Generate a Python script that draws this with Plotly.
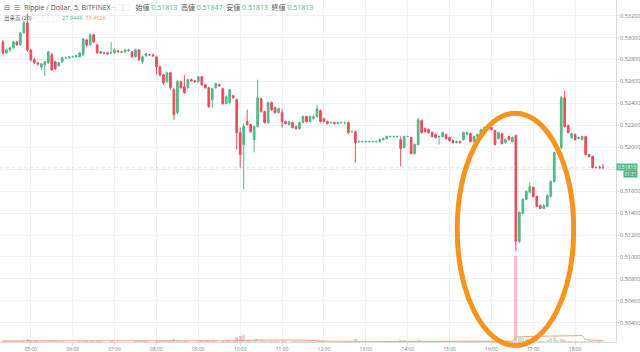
import pandas as pd
import plotly.graph_objects as go

# ---------------- data (5-minute XRP/USD candles, BITFINEX) ----------------
start_time = "2018-01-01 04:20"
n_bars = 173

opens = [
0.52961,0.52861,0.52888,0.52907,0.52961,0.52934,0.53043,0.53134,0.52888,0.52798,
0.52770,0.52734,0.52752,0.52770,0.52843,0.52779,0.52743,0.52779,0.52816,0.52816,
0.52825,0.52825,0.52825,0.52843,0.52979,0.52934,0.53025,0.52934,0.52870,0.52861,
0.52861,0.52861,0.52861,0.52879,0.52870,0.52870,0.52879,0.52870,0.52825,0.52888,
0.52779,0.52834,0.52843,0.52843,0.52825,0.52734,0.52661,0.52598,0.52679,0.52525,
0.52316,0.52598,0.52552,0.52543,0.52616,0.52607,0.52598,0.52643,0.52570,0.52543,
0.52434,0.52543,0.52570,0.52534,0.52398,0.52407,0.52470,0.52434,0.52134,0.52025,
0.52234,0.52207,0.52070,0.52189,0.52443,0.52325,0.52225,0.52407,0.52361,0.52316,
0.52316,0.52234,0.52207,0.52225,0.52189,0.52170,0.52225,0.52280,0.52234,0.52261,
0.52280,0.52334,0.52261,0.52234,0.52225,0.52225,0.52216,0.52225,0.52225,0.52225,
0.52143,0.52143,0.52052,0.52052,0.52052,0.52052,0.52052,0.52052,0.52052,0.52070,
0.52080,0.52098,0.52098,0.52098,0.52070,0.51998,0.52098,0.52089,0.51943,0.52025,
0.52243,0.52170,0.52161,0.52134,0.52116,0.52098,0.52098,0.52116,0.52089,0.52061,
0.52043,0.52052,0.52070,0.52116,0.52125,0.52052,0.52098,0.52116,0.52152,0.52170,
0.52180,0.52152,0.52080,0.52125,0.52043,0.52098,0.52052,0.52107,0.51143,0.51398,
0.51525,0.51589,0.51634,0.51552,0.51470,0.51443,0.51461,0.51552,0.51689,0.51952,
0.51998,0.52452,0.52198,0.52089,0.52116,0.52080,0.52070,0.52098,0.51934,0.51916,
0.51816,0.51816,0.51813]

highs = [
0.52979,0.52898,0.52916,0.52970,0.52970,0.53052,0.53152,0.53215,0.52898,0.52816,
0.52779,0.52770,0.52788,0.52879,0.52861,0.52788,0.52779,0.52825,0.52825,0.52834,
0.52834,0.52843,0.52870,0.52998,0.52988,0.53043,0.53034,0.52943,0.52879,0.52870,
0.52870,0.52961,0.52898,0.52888,0.52879,0.52898,0.52898,0.52879,0.52898,0.52898,
0.52834,0.52861,0.52852,0.52852,0.52834,0.52743,0.52670,0.52688,0.52688,0.52543,
0.52616,0.52607,0.52661,0.52625,0.52625,0.52616,0.52652,0.52652,0.52579,0.52552,
0.52543,0.52588,0.52579,0.52543,0.52470,0.52534,0.52479,0.52443,0.52180,0.52216,
0.52343,0.52216,0.52198,0.52616,0.52452,0.52334,0.52416,0.52416,0.52370,0.52361,
0.52352,0.52243,0.52243,0.52234,0.52198,0.52234,0.52289,0.52289,0.52289,0.52289,
0.52388,0.52343,0.52270,0.52243,0.52234,0.52234,0.52234,0.52234,0.52234,0.52234,
0.52152,0.52152,0.52061,0.52061,0.52061,0.52061,0.52061,0.52061,0.52080,0.52089,
0.52107,0.52107,0.52107,0.52107,0.52098,0.52107,0.52107,0.52098,0.52034,0.52270,
0.52252,0.52180,0.52170,0.52143,0.52125,0.52107,0.52143,0.52125,0.52098,0.52070,
0.52061,0.52061,0.52143,0.52143,0.52134,0.52107,0.52125,0.52170,0.52189,0.52189,
0.52189,0.52161,0.52143,0.52134,0.52080,0.52107,0.52098,0.52116,0.51416,0.51534,
0.51607,0.51680,0.51643,0.51561,0.51480,0.51480,0.51570,0.51698,0.51961,0.52016,
0.52470,0.52516,0.52207,0.52134,0.52125,0.52098,0.52107,0.52107,0.51943,0.51925,
0.51825,0.51834,0.51847]

lows = [
0.52843,0.52852,0.52870,0.52898,0.52925,0.52925,0.53034,0.52870,0.52779,0.52761,
0.52743,0.52707,0.52652,0.52761,0.52698,0.52707,0.52734,0.52770,0.52807,0.52807,
0.52816,0.52816,0.52816,0.52834,0.52916,0.52925,0.52952,0.52852,0.52852,0.52852,
0.52843,0.52852,0.52852,0.52861,0.52861,0.52861,0.52870,0.52816,0.52816,0.52788,
0.52761,0.52825,0.52834,0.52825,0.52661,0.52643,0.52570,0.52588,0.52525,0.52252,
0.52298,0.52534,0.52488,0.52534,0.52598,0.52588,0.52588,0.52561,0.52534,0.52361,
0.52361,0.52534,0.52552,0.52388,0.52388,0.52398,0.52443,0.51980,0.51816,0.51616,
0.52198,0.52134,0.51952,0.52180,0.52316,0.52216,0.52216,0.52334,0.52307,0.52307,
0.52180,0.52207,0.52198,0.52170,0.52161,0.52161,0.52216,0.52225,0.52225,0.52252,
0.52270,0.52225,0.52225,0.52207,0.52216,0.52207,0.52207,0.52216,0.52207,0.52116,
0.52134,0.51861,0.52043,0.52043,0.52043,0.52043,0.52043,0.52043,0.52043,0.52061,
0.52070,0.52089,0.52089,0.52089,0.51825,0.51989,0.52089,0.51934,0.51934,0.52016,
0.52125,0.52134,0.52125,0.52089,0.52080,0.52025,0.52089,0.52070,0.52052,0.52034,
0.52034,0.52034,0.52061,0.52107,0.52043,0.52043,0.52089,0.52107,0.52143,0.52161,
0.52152,0.52016,0.52070,0.52025,0.52034,0.52061,0.52043,0.51052,0.51125,0.51389,
0.51516,0.51580,0.51543,0.51452,0.51434,0.51434,0.51452,0.51543,0.51680,0.51943,
0.51980,0.52180,0.52125,0.52080,0.52061,0.52070,0.52061,0.51925,0.51907,0.51807,
0.51807,0.51807,0.51813]

closes = [
0.52861,0.52888,0.52907,0.52961,0.52934,0.53043,0.53134,0.52888,0.52798,0.52770,
0.52761,0.52761,0.52779,0.52870,0.52707,0.52716,0.52770,0.52816,0.52816,0.52825,
0.52825,0.52834,0.52861,0.52988,0.52934,0.53025,0.52961,0.52861,0.52861,0.52861,
0.52852,0.52861,0.52888,0.52870,0.52870,0.52888,0.52888,0.52825,0.52888,0.52798,
0.52825,0.52852,0.52843,0.52834,0.52734,0.52661,0.52588,0.52679,0.52543,0.52298,
0.52598,0.52543,0.52498,0.52616,0.52607,0.52598,0.52643,0.52570,0.52543,0.52370,
0.52534,0.52579,0.52561,0.52398,0.52461,0.52525,0.52452,0.52134,0.51934,0.52189,
0.52207,0.52143,0.52189,0.52452,0.52325,0.52225,0.52407,0.52343,0.52316,0.52352,
0.52234,0.52216,0.52234,0.52180,0.52170,0.52225,0.52280,0.52234,0.52280,0.52280,
0.52352,0.52234,0.52234,0.52216,0.52225,0.52216,0.52225,0.52225,0.52225,0.52134,
0.52143,0.52043,0.52052,0.52052,0.52052,0.52052,0.52052,0.52052,0.52070,0.52080,
0.52098,0.52098,0.52098,0.52098,0.51989,0.52098,0.52098,0.51943,0.52025,0.52252,
0.52134,0.52143,0.52134,0.52098,0.52089,0.52098,0.52134,0.52080,0.52061,0.52043,
0.52052,0.52043,0.52134,0.52134,0.52052,0.52098,0.52116,0.52161,0.52180,0.52180,
0.52161,0.52025,0.52134,0.52034,0.52070,0.52070,0.52089,0.51143,0.51407,0.51525,
0.51598,0.51643,0.51552,0.51461,0.51443,0.51470,0.51561,0.51689,0.51952,0.51998,
0.52452,0.52189,0.52134,0.52125,0.52070,0.52089,0.52098,0.51934,0.51916,0.51816,
0.51816,0.51813,0.51813]

volumes_k = [
60,45,40,55,35,70,90,130,80,50,
40,45,60,70,65,45,30,35,25,20,
20,25,30,45,90,60,70,55,40,25,
20,30,25,20,15,20,25,20,35,30,
40,30,20,25,50,55,60,45,80,130,
110,45,60,40,25,20,35,30,30,90,
80,35,25,60,40,50,30,260,300,360,
90,70,140,160,80,60,70,40,35,30,
55,30,25,35,30,40,35,40,30,25,
45,50,30,25,15,15,20,15,20,60,
30,140,20,15,15,15,20,15,25,30,
30,15,15,20,90,120,20,70,60,110,
70,40,35,40,35,45,40,35,45,40,
25,25,50,35,45,40,35,50,45,30,
35,70,50,60,40,35,45,4300,260,200,
150,120,90,80,60,50,90,200,230,100,
140,120,60,45,40,30,35,70,45,60,
30,30,27.944]

hour_ticks = ["05:00","06:00","07:00","08:00","09:00","10:00","11:00",
              "12:00","13:00","14:00","15:00","16:00","17:00","18:00"]
price_ticks = [0.504,0.506,0.508,0.510,0.512,0.514,0.516,0.518,
               0.520,0.522,0.524,0.526,0.528,0.530,0.532]

last_price = 0.51813
countdown = "01:31"

# ---------------- styling ----------------
UP = "#53B987"
DOWN = "#EB4D5C"
GRID = "#EEF1F5"
AXIS = "#D9DCE0"
TXT = "#7A7A7A"
MA_COL = "#F4A27E"
FONT = "Open Sans, Noto Sans CJK JP, DejaVu Sans, sans-serif"

times = pd.date_range(start_time, periods=n_bars, freq="5min")
day = times[0].strftime("%Y-%m-%d")
vol = pd.Series(volumes_k) * 1000.0
vol_ma = vol.rolling(20, min_periods=1).mean()
vol_colors = ["rgba(83,185,135,0.35)" if c >= o else "rgba(235,77,92,0.35)"
              for o, c in zip(opens, closes)]

# the 0.51800 label sits under the last-price tag, as in the reference
price_text = ["" if abs(v - 0.518) < 1e-9 else "%.5f" % v for v in price_ticks]

fig = go.Figure()
fig.add_trace(go.Bar(x=times, y=vol, yaxis="y2", marker_color=vol_colors,
                     marker_line_width=0, width=5 * 60 * 1000 * 0.9,
                     showlegend=False, hoverinfo="skip"))
fig.add_trace(go.Scatter(x=times, y=vol_ma, yaxis="y2", mode="lines",
                         line=dict(color=MA_COL, width=1), showlegend=False,
                         hoverinfo="skip"))
fig.add_trace(go.Candlestick(
    x=times, open=opens, high=highs, low=lows, close=closes,
    increasing=dict(line=dict(color=UP, width=1), fillcolor=UP),
    decreasing=dict(line=dict(color=DOWN, width=1), fillcolor=DOWN),
    whiskerwidth=0, showlegend=False))

fig.update_layout(
    width=640, height=352,
    margin=dict(l=0, r=21, t=0, b=9),
    paper_bgcolor="white", plot_bgcolor="white",
    font=dict(family=FONT, color=TXT),
    bargap=0,
    xaxis=dict(type="date", range=[day + " 04:15:48", day + " 18:58:30"],
               tickvals=[day + " " + h for h in hour_ticks], ticktext=hour_ticks,
               tickfont=dict(size=5, color=TXT), showgrid=True, gridcolor=GRID,
               gridwidth=1, showline=True, linecolor=AXIS, ticks="outside",
               ticklen=2, tickcolor=AXIS, rangeslider=dict(visible=False),
               zeroline=False, fixedrange=True),
    yaxis=dict(side="right", range=[0.502249, 0.533427], tickvals=price_ticks,
               ticktext=price_text, tickfont=dict(size=5.5, color=TXT),
               showgrid=True, gridcolor=GRID, gridwidth=1, showline=True,
               linecolor=AXIS, ticks="outside", ticklen=2, tickcolor=AXIS,
               zeroline=False, fixedrange=True),
    yaxis2=dict(overlaying="y", range=[0, 17150000], visible=False,
                fixedrange=True),
)

# last price dotted line
fig.add_shape(type="line", xref="paper", x0=0, x1=1, yref="y",
              y0=last_price, y1=last_price,
              line=dict(color=UP, width=1, dash="dot"), opacity=0.3)

# orange ellipse highlight
fig.add_shape(type="circle", xref="paper", yref="paper",
              x0=0.7423, x1=0.9313, y0=-0.0102, y1=0.6691,
              line=dict(color="#F7941D", width=5))

# price label boxes on the right axis
fig.add_annotation(xref="paper", x=1.0, xanchor="left", yref="y", y=last_price,
                   yanchor="middle", yshift=0.5, text="0.51813", showarrow=False,
                   bgcolor=UP, font=dict(size=5, color="white", family=FONT),
                   borderpad=0, width=20, height=6, align="center")
fig.add_annotation(xref="paper", x=1.0, xanchor="left", yref="y", y=last_price,
                   yanchor="middle", yshift=-6.5, xshift=7, text=countdown,
                   showarrow=False, bgcolor="#4DAE80",
                   font=dict(size=4.5, color="white", family=FONT),
                   borderpad=0, width=13, height=6, align="center")

# header lines
G = "<span style='color:%s'>%s</span>"
header1 = ("⊟&nbsp;&nbsp;≡&nbsp;&nbsp;Ripple / Dollar, 5, BITFINEX&nbsp;·&nbsp;"
           + G % ("#C9CCD1", "▢▢") + "&nbsp;&nbsp;&nbsp;始値 " + G % (UP, "0.51813")
           + "&nbsp;&nbsp;高値 " + G % (UP, "0.51847")
           + "&nbsp;&nbsp;安値 " + G % (UP, "0.51813")
           + "&nbsp;&nbsp;終値 " + G % (UP, "0.51813"))
fig.add_annotation(xref="paper", yref="paper", x=0.003, y=0.9767,
                   xanchor="left", yanchor="middle", text=header1,
                   showarrow=False, font=dict(size=7, color="#555555", family=FONT))
header2 = ("出来高 (20) ·&nbsp;&nbsp;" + G % ("#C9CCD1", "▢▢▢▢")
           + "&nbsp;&nbsp;" + G % (UP, "27.944K") + "&nbsp;&nbsp;"
           + G % (MA_COL, "58.452K"))
fig.add_annotation(xref="paper", yref="paper", x=0.004, y=0.9484,
                   xanchor="left", yanchor="middle", text=header2,
                   showarrow=False, font=dict(size=5.5, color="#555555", family=FONT))

fig.write_html("out.html")
